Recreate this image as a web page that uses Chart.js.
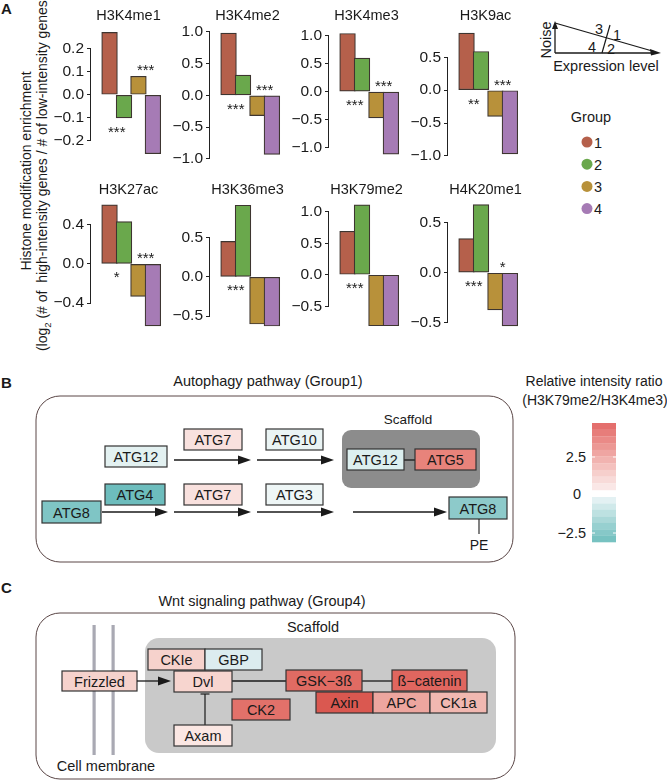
<!DOCTYPE html>
<html>
<head>
<meta charset="utf-8">
<script src="https://cdn.jsdelivr.net/npm/chart.js@4.4.0/dist/chart.umd.min.js"></script>
<style>
  body { margin: 0; background: #fff; font-family: Arial, "Liberation Sans", Helvetica, sans-serif; color: #1a1a1a; }
  #fig { position: relative; width: 667px; height: 781px; overflow: hidden; }
  #fig canvas { position: absolute; }
  #ov { position: absolute; left: 0; top: 0; }
  .ytitle { position: absolute; top: 171px; transform: translate(-50%, -50%) rotate(-90deg); white-space: nowrap; font-size: 14px; }
  .ytitle sub { font-size: 9.5px; line-height: 0; }
</style>
</head>
<body>
<div id="fig">
  <svg id="ov" width="667" height="781" font-family="Arial, 'Liberation Sans', sans-serif"></svg>
  <div class="ytitle" style="left:26px">Histone modification enrichment</div>
  <div class="ytitle" style="left:42px">(log<sub>2</sub> (# of&nbsp; high-intensity genes / # of low-intensity genes))</div>
</div>
<script>
// ---- data for panel A ----
const groups = ['1', '2', '3', '4'];
const groupColors = ['#b5604b', '#6aa84c', '#b8913a', '#a67bb5'];
const marks = ['H3K4me1', 'H3K4me2', 'H3K4me3', 'H3K9ac', 'H3K27ac', 'H3K36me3', 'H3K79me2', 'H4K20me1'];

// log2 enrichment, groups 1..4
const h3k4me1 = [0.27, -0.10, 0.08, -0.255];
const h3k4me2 = [0.98, 0.32, -0.32, -0.93];
const h3k4me3 = [1.04, 0.60, -0.47, -1.12];
const h3k9ac = [0.87, 0.59, -0.40, -0.97];
const h3k27ac = [0.60, 0.43, -0.33, -0.63];
const h3k36me3 = [0.45, 0.91, -0.60, -0.625];
const h3k79me2 = [0.69, 1.11, -0.81, -0.81];
const h4k20me1 = [0.34, 0.68, -0.37, -0.53];
const enrichment = [h3k4me1, h3k4me2, h3k4me3, h3k9ac, h3k27ac, h3k36me3, h3k79me2, h4k20me1];

// significance: group 1 vs 2, group 3 vs 4
const stars12 = ['***', '***', '***', '**', '*', '***', '***', '***'];
const stars34 = ['***', '***', '***', '***', '***', '', '', '*'];

// y tick labels of each panel
const yTicks = [
  [-0.2, -0.1, 0, 0.1, 0.2],
  [-1, -0.5, 0, 0.5, 1],
  [-1, -0.5, 0, 0.5, 1],
  [-1, -0.5, 0, 0.5],
  [-0.4, 0, 0.4],
  [-0.5, 0, 0.5],
  [-0.5, 0, 0.5, 1],
  [-0.5, 0, 0.5]
];
// y range shown by each panel
const yRange = [
  [-0.294, 0.302], [-1.062, 1.109], [-1.273, 1.192], [-1.105, 0.994],
  [-0.70, 0.70], [-0.71, 1.04], [-0.92, 1.266], [-0.598, 0.775]
];

// colour scale (H3K79me2/H3K4me3)
const redBands = ['#e46f6d', '#e77d7a', '#ea8a87', '#ec9894', '#efa5a2', '#f1b3b0', '#f4c1be', '#f6cfcc', '#f8dbd9', '#fae7e6'];
const tealBands = ['#e3f1f3', '#d0e9ea', '#bde1e1', '#aad8d8', '#97d0d0', '#86c8c8', '#77c2c1'];
const scaleTicks = ['2.5', '0', '\u22122.5'];

Chart.defaults.font.family = 'Arial, "Liberation Sans", Helvetica, sans-serif';
Chart.defaults.color = '#1a1a1a';

const fig = document.getElementById('fig');
const colLeft = [90.9, 209.9, 328.9, 447.9];
const rowTop = [25, 195];
const titleY = [16, 190];

marks.forEach((mark, i) => {
  const r = Math.floor(i / 4), c = i % 4;
  const cv = document.createElement('canvas');
  cv.width = 132; cv.height = 175;
  cv.style.left = (colLeft[c] - 45) + 'px';
  cv.style.top = (rowTop[r] - 25) + 'px';
  fig.appendChild(cv);
  const vals = enrichment[i];
  const tks = yTicks[i];

  // title, partial axis line (R style) and stars
  const extras = {
    id: 'extras' + i,
    afterDraw(chart) {
      const ctx = chart.ctx, area = chart.chartArea, y = chart.scales.y;
      ctx.save();
      ctx.strokeStyle = '#222';
      ctx.lineWidth = 1;
      ctx.beginPath();
      ctx.moveTo(area.left - 0.5, y.getPixelForValue(Math.max(...tks)));
      ctx.lineTo(area.left - 0.5, y.getPixelForValue(Math.min(...tks)));
      ctx.stroke();

      ctx.fillStyle = '#1a1a1a';
      ctx.textAlign = 'center';
      ctx.textBaseline = 'middle';
      ctx.font = '14.5px Arial, "Liberation Sans", sans-serif';
      ctx.fillText(mark, (area.left + area.right) / 2 - 2, titleY[r] - (rowTop[r] - 25));

      const bars = chart.getDatasetMeta(0).data;
      ctx.font = '15px Arial, "Liberation Sans", sans-serif';
      ctx.textBaseline = 'alphabetic';
      if (stars12[i]) {
        const low = Math.max(bars[0].y, bars[0].base, bars[1].y, bars[1].base);
        ctx.fillText(stars12[i], (bars[0].x + bars[1].x) / 2, low + 10 + 9);
      }
      if (stars34[i]) {
        const high = Math.min(bars[2].y, bars[2].base, bars[3].y, bars[3].base);
        ctx.fillText(stars34[i], (bars[2].x + bars[3].x) / 2, high - 10 + 9);
      }
      ctx.restore();
    }
  };

  new Chart(cv, {
    type: 'bar',
    data: {
      datasets: [{
        data: groups.map((g, k) => ({ x: k + 1, y: vals[k] })),
        backgroundColor: groupColors,
        borderColor: '#3d3530',
        borderWidth: 1.2,
        borderSkipped: false,
        barThickness: 15.7
      }]
    },
    options: {
      responsive: false,
      animation: false,
      layout: { padding: { top: 25, bottom: 10, left: 0, right: 8 } },
      plugins: { legend: { display: false }, tooltip: { enabled: false } },
      scales: {
        x: {
          type: 'linear', display: false, min: 0.4, max: 4.5,
          afterBuildTicks: s => { s.ticks = groups.map((g, k) => ({ value: k + 1 })); }
        },
        y: {
          min: yRange[i][0], max: yRange[i][1],
          afterBuildTicks: s => { s.ticks = tks.map(v => ({ value: v })); },
          afterFit: s => { s.width = 45; },
          border: { display: false },
          grid: { drawOnChartArea: false, drawTicks: true, tickLength: 4, color: '#222', lineWidth: 1 },
          ticks: {
            padding: 3,
            font: { size: 15.5 },
            color: '#1a1a1a',
            callback: v => v.toFixed(1).replace('-', '\u2212')
          }
        }
      }
    },
    plugins: [extras]
  });
});

// ---- static parts: legends and pathway diagrams ----
const ov = document.getElementById('ov');
let s = '';
const T = (x, y, txt, size, anchor, extra) =>
  `<text x="${x}" y="${y}" font-size="${size}" text-anchor="${anchor || 'middle'}" fill="#1a1a1a" ${extra || ''}>${txt}</text>`;
const L = (x1, y1, x2, y2, w, col) =>
  `<line x1="${x1}" y1="${y1}" x2="${x2}" y2="${y2}" stroke="${col || '#1a1a1a'}" stroke-width="${w || 1.3}"/>`;
const arrow = (x1, y, x2) =>
  L(x1, y, x2 - 10, y) + `<polygon points="${x2},${y} ${x2 - 13},${y - 4.5} ${x2 - 13},${y + 4.5}" fill="#1a1a1a"/>`;
const box = (x1, y1, x2, y2, fill, label) =>
  `<rect x="${x1}" y="${y1}" width="${x2 - x1}" height="${y2 - y1}" fill="${fill}" stroke="#333" stroke-width="1.2"/>` +
  T((x1 + x2) / 2, (y1 + y2) / 2 + 5.5, label, 14.5);

// panel letters
s += T(1, 14, 'A', 15, 'start', 'font-weight="bold"');
s += T(1, 388, 'B', 15, 'start', 'font-weight="bold"');
s += T(1, 593, 'C', 15, 'start', 'font-weight="bold"');

// group scheme triangle
s += L(555, 53, 555, 27) + `<polygon points="555,21 552,29 558,29" fill="#1a1a1a"/>`;
s += L(555, 23, 654, 51.5) + L(555, 53, 654, 53);
s += `<polygon points="661,53 650,49 651,55.5" fill="#1a1a1a"/>`;
s += L(602, 53, 610, 25, 1.2);
s += T(599, 34, '3', 14.5) + T(617, 40, '1', 14.5) + T(592, 52, '4', 14.5) + T(611, 54, '2', 14.5);
s += T(551, 40, 'Noise', 14.5, 'middle', 'transform="rotate(-90 551 40)"');
s += T(606, 71, 'Expression level', 14.5);

// group legend
s += T(591, 122, 'Group', 14.5);
groups.forEach((g, k) => {
  const cy = 142 + k * 22.2;
  s += `<circle cx="587" cy="${cy}" r="5.5" fill="${groupColors[k]}"/>` + T(594, cy + 5.5, g, 14.5, 'start');
});

// colour scale
s += T(594, 386, 'Relative intensity ratio', 14) + T(595, 405, '(H3K79me2/H3K4me3)', 14);
redBands.forEach((col, k) => { s += `<rect x="592" y="${423 + k * 6.7}" width="24" height="6.9" fill="${col}"/>`; });
tealBands.forEach((col, k) => { s += `<rect x="592" y="${497 + k * 6.45}" width="24" height="6.6" fill="${col}"/>`; });
s += L(592, 457, 595, 457, 1, '#fff') + L(613, 457, 616, 457, 1, '#fff');
s += L(592, 533, 595, 533, 1, '#fff') + L(613, 533, 616, 533, 1, '#fff');
s += T(586, 462, scaleTicks[0], 14.5, 'end') + T(577, 499, scaleTicks[1], 14.5) + T(586, 538, scaleTicks[2], 14.5, 'end');

// panel B: autophagy pathway
s += T(268, 386, 'Autophagy pathway (Group1)', 14.5);
s += `<rect x="36" y="396" width="477" height="166" rx="24" fill="none" stroke="#5a4646" stroke-width="1"/>`;
s += `<rect x="342" y="430" width="138" height="58" rx="9" fill="#8c8c8c"/>`;
s += T(408, 424, 'Scaffold', 13.5);
s += box(105, 446, 167, 467, '#e3f1f1', 'ATG12');
s += box(184, 429, 242, 450, '#f9e1de', 'ATG7');
s += box(266, 429, 323, 450, '#eaf4f4', 'ATG10');
s += L(404, 460, 415, 460);
s += box(347, 449, 404, 470, '#dcefef', 'ATG12');
s += box(415, 449, 476, 470, '#e8837b', 'ATG5');
s += arrow(174, 460, 251) + arrow(257, 460, 334);
s += box(105, 484, 165, 505, '#6dbdbd', 'ATG4');
s += box(184, 484, 242, 505, '#f9e1de', 'ATG7');
s += box(266, 484, 323, 505, '#eef6f6', 'ATG3');
s += box(42, 501, 101, 523, '#7fc5c5', 'ATG8');
s += arrow(102, 512, 168) + arrow(174, 512, 251) + arrow(257, 512, 334) + arrow(353, 512, 447);
s += box(449, 497, 507, 519, '#8dcaca', 'ATG8');
s += L(479, 519, 479, 534, 1.1);
s += T(479, 550, 'PE', 14);

// panel C: Wnt signalling pathway
s += T(262, 606, 'Wnt signaling pathway (Group4)', 14.5);
s += `<rect x="36" y="613" width="479" height="166" rx="24" fill="none" stroke="#5a4646" stroke-width="1"/>`;
s += `<rect x="145" y="638" width="351" height="115" rx="14" fill="#c9c9c9"/>`;
s += T(313, 632, 'Scaffold', 14.5);
s += `<rect x="92.5" y="625" width="3.2" height="130" fill="#a9a9b3"/><rect x="111.5" y="625" width="3.2" height="130" fill="#a9a9b3"/>`;
s += T(106, 771, 'Cell membrane', 14.5);
s += box(62, 671, 137, 691, '#f6d2cc', 'Frizzled');
s += arrow(137, 681, 171);
s += box(148, 649, 205, 670, '#f6d2cc', 'CKIe');
s += box(205, 649, 262, 670, '#dcecef', 'GBP');
s += L(232, 681, 286, 681) + L(362, 681, 392, 681);
s += box(174, 671, 232, 692, '#f7d5cf', 'Dvl');
s += box(286, 670, 362, 691, '#e06b63', 'GSK\u22123\u00df');
s += box(392, 670, 467, 691, '#e0665f', '\u00df\u2212catenin');
s += box(316, 692, 373, 713, '#da5850', 'Axin');
s += box(373, 692, 430, 713, '#eda69f', 'APC');
s += box(430, 692, 487, 713, '#f1b8b1', 'CK1a');
s += box(232, 699, 290, 720, '#e2716a', 'CK2');
s += L(205, 694, 205, 725, 1.2) + L(200.5, 694, 209.5, 694, 1.2);
s += box(174, 725, 232, 746, '#fbe7e3', 'Axam');

ov.innerHTML = s;
</script>
</body>
</html>
